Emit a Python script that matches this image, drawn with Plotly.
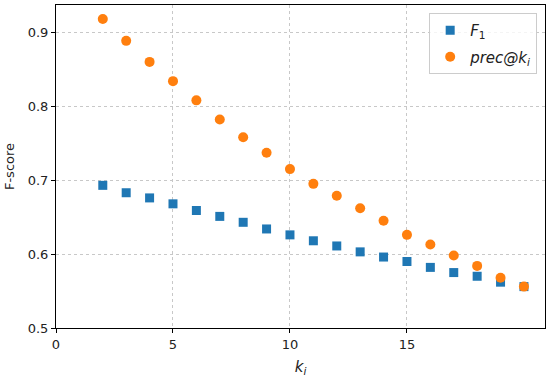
import plotly.graph_objects as go

k_values = list(range(2, 21))
f1_scores = [0.693, 0.683, 0.676, 0.668, 0.659, 0.651, 0.643, 0.634, 0.626, 0.618,
             0.611, 0.603, 0.596, 0.590, 0.582, 0.575, 0.570, 0.562, 0.556]
prec_scores = [0.918, 0.8885, 0.860, 0.834, 0.808, 0.782, 0.758, 0.737, 0.715, 0.695,
               0.679, 0.662, 0.645, 0.626, 0.613, 0.598, 0.584, 0.568, 0.556]
x_ticks = [0, 5, 10, 15]
y_ticks = [0.5, 0.6, 0.7, 0.8, 0.9]

fig = go.Figure()
fig.add_trace(go.Scatter(x=k_values, y=f1_scores, mode="markers", name="<i>F</i><sub>1</sub>",
                         legendgroup="a",
                         marker=dict(symbol="square", size=9, color="#1f77b4")))
fig.add_trace(go.Scatter(x=k_values, y=prec_scores, mode="markers", name="<i>prec@k<sub>i</sub></i>",
                         legendgroup="b",
                         marker=dict(symbol="circle", size=10, color="#ff7f0e")))

axis_common = dict(showline=True, linecolor="black", linewidth=1, mirror=True,
                   ticks="outside", ticklen=4, tickcolor="black", automargin=False,
                   showgrid=True, gridcolor="#c8c8c8", griddash="dot", gridwidth=1,
                   zeroline=False, tickfont=dict(size=13, color="#222"))
fig.update_xaxes(range=[0, 20.9], tickvals=x_ticks,
                 title=dict(text="<i>k<sub>i</sub></i>", font=dict(size=15, color="#222"), standoff=10),
                 **axis_common)
fig.update_yaxes(range=[0.5, 0.937], tickvals=y_ticks, tickformat=".1f",
                 title=dict(text="F-score", font=dict(size=13, color="#222"), standoff=10),
                 **axis_common)
fig.update_layout(width=550, height=378, margin=dict(l=56, r=5, t=5, b=50, autoexpand=False),
                  plot_bgcolor="white", paper_bgcolor="white",
                  font=dict(family="DejaVu Sans", size=13, color="#222"),
                  legend=dict(x=0.984, y=0.975, xanchor="right", yanchor="top",
                              bordercolor="#cccccc", borderwidth=1, bgcolor="rgba(255,255,255,0.8)",
                              font=dict(size=15), tracegroupgap=4),
                  showlegend=True)
fig.write_html("out.html", post_script="document.body.style.margin='0';",
               config={"displayModeBar": False})
